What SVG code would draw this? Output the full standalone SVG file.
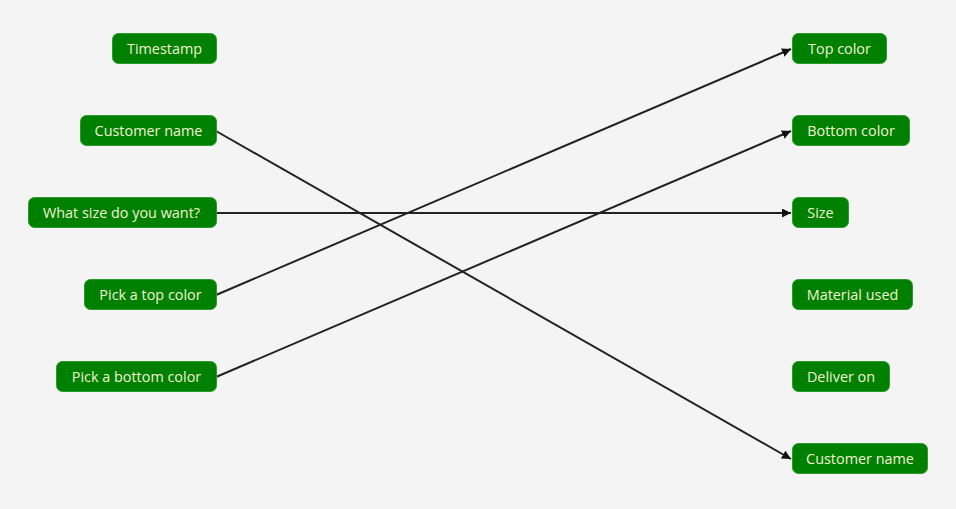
<svg xmlns="http://www.w3.org/2000/svg" width="956" height="509" viewBox="0 0 956 509">
<style>
.box{fill:#008000;stroke:#2a9a2a;stroke-width:1}
.lbl{font-family:"Open Sans","Noto Sans",sans-serif;font-size:14.4px;fill:#f2f2d2;text-anchor:middle;dominant-baseline:central}
.edge{stroke:#222;stroke-width:2;fill:none;marker-end:url(#ah)}
</style>
<defs>
<marker id="ah" viewBox="0 0 10 10" refX="10" refY="5" markerWidth="4.5" markerHeight="4.5" orient="auto" markerUnits="strokeWidth">
<path d="M0,0 L10,5 L0,10 z" fill="#111"/>
</marker>
</defs>
<rect width="956" height="509" fill="#f4f4f4"/>
<g id="connectors">
<line class="edge" x1="216" y1="131" x2="791" y2="459"/>
<line class="edge" x1="216" y1="213" x2="791" y2="213"/>
<line class="edge" x1="216" y1="295" x2="791" y2="49"/>
<line class="edge" x1="216" y1="377" x2="791" y2="131"/>
</g>
<g id="l-timestamp"><rect class="box" x="112.5" y="33.5" width="104" height="30" rx="6"/><text class="lbl" x="164.5" y="48.5">Timestamp</text></g>
<g id="l-customer"><rect class="box" x="80.5" y="115.5" width="136" height="30" rx="6"/><text class="lbl" x="148.5" y="130.5">Customer name</text></g>
<g id="l-size"><rect class="box" x="28.5" y="197.5" width="188" height="30" rx="6"/><text class="lbl" x="121.5" y="212.5">What size do you want?</text></g>
<g id="l-top"><rect class="box" x="84.5" y="279.5" width="132" height="30" rx="6"/><text class="lbl" x="150.5" y="294.5">Pick a top color</text></g>
<g id="l-bottom"><rect class="box" x="56.5" y="361.5" width="160" height="30" rx="6"/><text class="lbl" x="136.5" y="376.5">Pick a bottom color</text></g>
<g id="r-top"><rect class="box" x="792.5" y="33.5" width="94" height="30" rx="6"/><text class="lbl" x="839.5" y="48.5">Top color</text></g>
<g id="r-bottom"><rect class="box" x="792.5" y="115.5" width="117" height="30" rx="6"/><text class="lbl" x="851" y="130.5">Bottom color</text></g>
<g id="r-size"><rect class="box" x="792.5" y="197.5" width="56" height="30" rx="6"/><text class="lbl" x="820.5" y="212.5">Size</text></g>
<g id="r-material"><rect class="box" x="792.5" y="279.5" width="120" height="30" rx="6"/><text class="lbl" x="852.5" y="294.5">Material used</text></g>
<g id="r-deliver"><rect class="box" x="792.5" y="361.5" width="97" height="30" rx="6"/><text class="lbl" x="841" y="376.5">Deliver on</text></g>
<g id="r-customer"><rect class="box" x="792.5" y="443.5" width="135" height="30" rx="6"/><text class="lbl" x="860" y="458.5">Customer name</text></g>
</svg>
